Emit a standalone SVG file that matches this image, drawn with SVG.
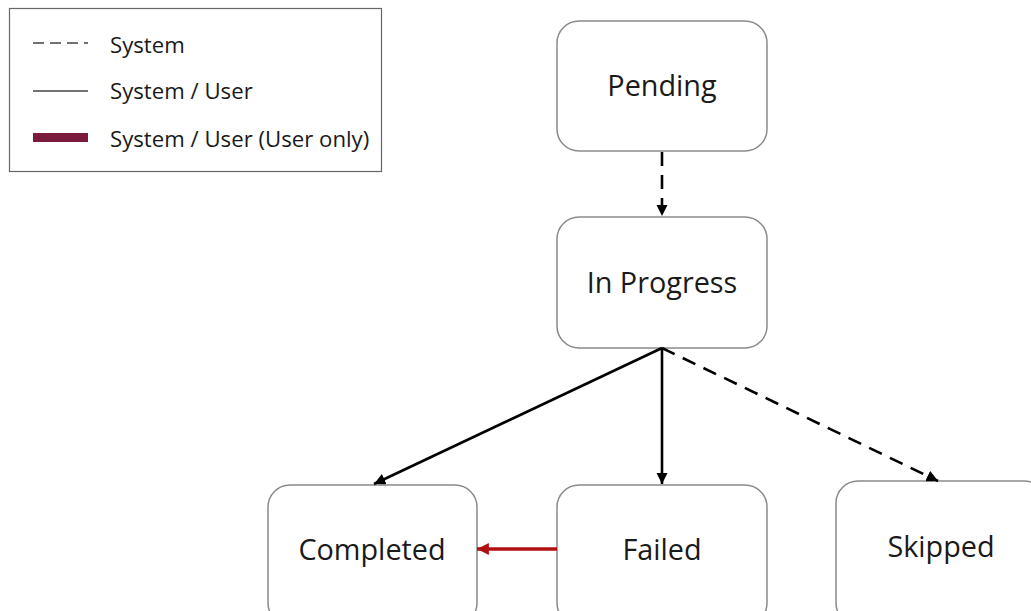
<svg xmlns="http://www.w3.org/2000/svg" width="1031" height="611" viewBox="0 0 1031 611">
<style>
.node{fill:#fff;stroke:#8a8a8a;stroke-width:1.5}
.lbl{font-family:"Open Sans","Noto Sans",sans-serif;font-size:28.8px;fill:#1a1a1a;text-anchor:middle}
.leg{font-family:"Open Sans","Noto Sans",sans-serif;font-size:22.2px;fill:#1a1a1a}
.edge{fill:none;stroke:#000;stroke-width:2.6}
.dash{stroke-dasharray:14 9}
</style>
<defs>
<marker id="ah" viewBox="0 0 10 10" refX="10" refY="5" markerWidth="4.4" markerHeight="4.4" orient="auto" markerUnits="strokeWidth">
<path d="M0,0 L10,5 L0,10 z" fill="#000"/>
</marker>
<marker id="ahr" viewBox="0 0 10 10" refX="10" refY="5" markerWidth="3.4" markerHeight="3.4" orient="auto" markerUnits="strokeWidth">
<path d="M0,0 L10,5 L0,10 z" fill="#b01010"/>
</marker>
</defs>
<rect width="1031" height="611" fill="#fff"/>
<g id="legend">
<rect x="9.5" y="8.5" width="372" height="163" fill="#fff" stroke="#666" stroke-width="1.2"/>
<line x1="33" y1="43" x2="88" y2="43" stroke="#444" stroke-width="1.5" stroke-dasharray="11 6"/>
<text class="leg" x="110" y="53">System</text>
<line x1="33" y1="91" x2="88" y2="91" stroke="#444" stroke-width="1.5"/>
<text class="leg" x="110" y="99">System / User</text>
<rect x="33" y="133" width="55" height="9" fill="#7a1a3c"/>
<text class="leg" x="110" y="147">System / User (User only)</text>
</g>
<g id="pending">
<rect class="node" x="557" y="21" width="210" height="130" rx="22"/>
<text class="lbl" x="662" y="96">Pending</text>
</g>
<g id="inprogress">
<rect class="node" x="557" y="217" width="210" height="131" rx="22"/>
<text class="lbl" x="662" y="293">In Progress</text>
</g>
<g id="completed">
<rect class="node" x="268" y="485" width="209" height="140" rx="22"/>
<text class="lbl" x="372" y="560">Completed</text>
</g>
<g id="failed">
<rect class="node" x="557" y="485" width="210" height="140" rx="22"/>
<text class="lbl" x="662" y="560">Failed</text>
</g>
<g id="skipped">
<rect class="node" x="836" y="481" width="210" height="144" rx="22"/>
<text class="lbl" x="941" y="557">Skipped</text>
</g>
<g id="connectors">
<line class="edge dash" x1="662" y1="152" x2="662" y2="216" stroke-dasharray="11 7" marker-end="url(#ah)"/>
<line class="edge" x1="662" y1="348" x2="374" y2="484" marker-end="url(#ah)"/>
<line class="edge" x1="662" y1="348" x2="662" y2="484" marker-end="url(#ah)"/>
<line class="edge dash" x1="662" y1="348" x2="938" y2="481" marker-end="url(#ah)"/>
<line x1="557" y1="549" x2="477" y2="549" stroke="#b01010" stroke-width="3.5" marker-end="url(#ahr)"/>
</g>
</svg>
